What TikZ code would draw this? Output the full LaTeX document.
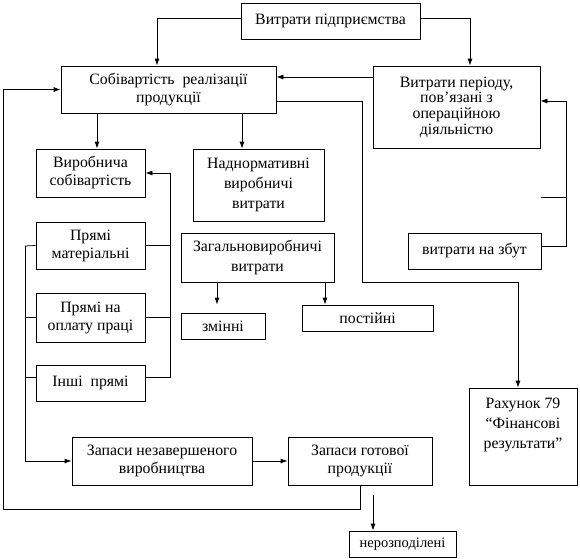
\documentclass[tikz,border=0pt]{standalone}
\usepackage{fontspec}
\setmainfont{Liberation Serif}
\usepackage{tikz}
\usetikzlibrary{arrows.meta,positioning,calc}

\newcommand\boxfont[2]{\fontsize{#1}{#2}\selectfont\lineskiplimit=-50pt\relax}

\begin{document}
\begin{tikzpicture}[x=1pt,y=-1pt,
  box/.style={draw, line width=0.8pt, align=center, inner sep=0pt, font={\boxfont{15.8}{18}}},
  wide/.style={font={\boxfont{15.8}{20}}},
  tight/.style={font={\boxfont{15.8}{15.7}}},
  arr/.style={line width=0.8pt, -{Latex[length=7pt,width=5pt]}},
  ln/.style={line width=0.8pt}]
  \useasboundingbox (0,0) rectangle (580,558);

  % Top level
  \node[box, minimum width=179, minimum height=36] (top) at (330.5,21) {Витрати підприємства};
  \node[box, minimum width=215, minimum height=47] (sob) at (168.5,89.5) {Собівартість\ \ реалізації\\продукції};
  \node[box, tight, minimum width=167, minimum height=82] (period) at (456.5,107) {Витрати періоду,\\пов’язані з\\операційною\\діяльністю};

  % Production cost
  \node[box, minimum width=109, minimum height=48] (vyrob) at (90.5,173) {Виробнича\\собівартість};
  \node[box, wide, minimum width=131, minimum height=72] (nadnorm) at (258.5,185) {Наднормативні\\виробничі\\витрати};
  \node[box, minimum width=109, minimum height=47] (mat) at (90.5,245.5) {Прямі\\матеріальні};
  \node[box, wide, minimum width=153, minimum height=49] (zagal) at (257.5,257.5) {Загальновиробничі\\витрати};
  \node[box, minimum width=133, minimum height=36] (zbut) at (474.5,251) {витрати на збут};
  \node[box, minimum width=109, minimum height=49] (oplata) at (90.5,317.5) {Прямі  на\\оплату праці};
  \node[box, minimum width=84, minimum height=26] (zminni) at (223,326) {змінні};
  \node[box, minimum width=131, minimum height=26] (postiini) at (367.5,318) {постійні};
  \node[box, minimum width=109, minimum height=36] (inshi) at (90.5,383) {Інші\ \ прямі};

  % Stocks and results
  \node[box, minimum width=108, minimum height=97] (rakhunok) at (523,436.5) {};
  \node[wide, align=center, inner sep=0pt, below=10pt of rakhunok.north] (rakhtext) {Рахунок 79\\“Фінансові\\результати”};
  \node[box, minimum width=180, minimum height=48] (nezav) at (162,461) {Запаси незавершеного\\виробництва};
  \node[box, minimum width=144, minimum height=48] (gotova) at (360,461) {Запаси готової\\продукції};
  \node[box, font={\boxfont{14.5}{18}}, minimum width=107, minimum height=26] (nerozp) at (402.5,544) {нерозподілені};

  % Bus lines
  \coordinate (lbus) at (25,246);
  \coordinate (rbus) at (170,173);
  \coordinate (zbar) at (566,246);
  \coordinate (nfree) at (373,495);

  % Connectors
  \draw[arr] (top.west |- 0,18) -| ([xshift=-11.5pt]sob.north);
  \draw[arr] (top.east |- 0,18) -| ([xshift=13.5pt]period.north);
  \draw[arr] (period.west |- 0,77) -- (sob.east |- 0,77);
  \draw[arr] (gotova.south) |- (3,509) |- (sob.west);
  \draw[arr] (sob.south -| 97,0) -- (vyrob.north -| 97,0);
  \draw[arr] (sob.south -| 242,0) -- (nadnorm.north -| 242,0);
  \draw[arr] (sob.east |- 0,101) -| (362,282) -| (rakhunok.north -| 518,0);

  \draw[ln] (mat.east) -- (rbus |- mat.east);
  \draw[ln] (oplata.east) -- (rbus |- oplata.east);
  \draw[arr] (inshi.east |- 0,377) -| (rbus) -- (vyrob.east);

  \draw[ln] (lbus) -- (mat.west);
  \draw[ln] (lbus |- oplata.west) -- (oplata.west);
  \draw[ln] (lbus |- 0,377) -- (inshi.west |- 0,377);
  \draw[arr] (lbus) |- (nezav.west);
  \draw[arr] (nezav.east) -- (gotova.west);

  \draw[arr, shorten >=8pt] (zagal.south -| 217,0) -- (zminni.north -| 217,0);
  \draw[arr] (zagal.south -| 325,0) -- (postiini.north -| 325,0);

  \draw[arr] (zbut.east |- zbar) -- (zbar) |- (period.east |- 0,101);
  \draw[ln] (zbut.east |- 0,197) -- (zbar |- 0,197);

  \draw[arr] (nfree) -- (nerozp.north -| nfree);
\end{tikzpicture}
\end{document}
